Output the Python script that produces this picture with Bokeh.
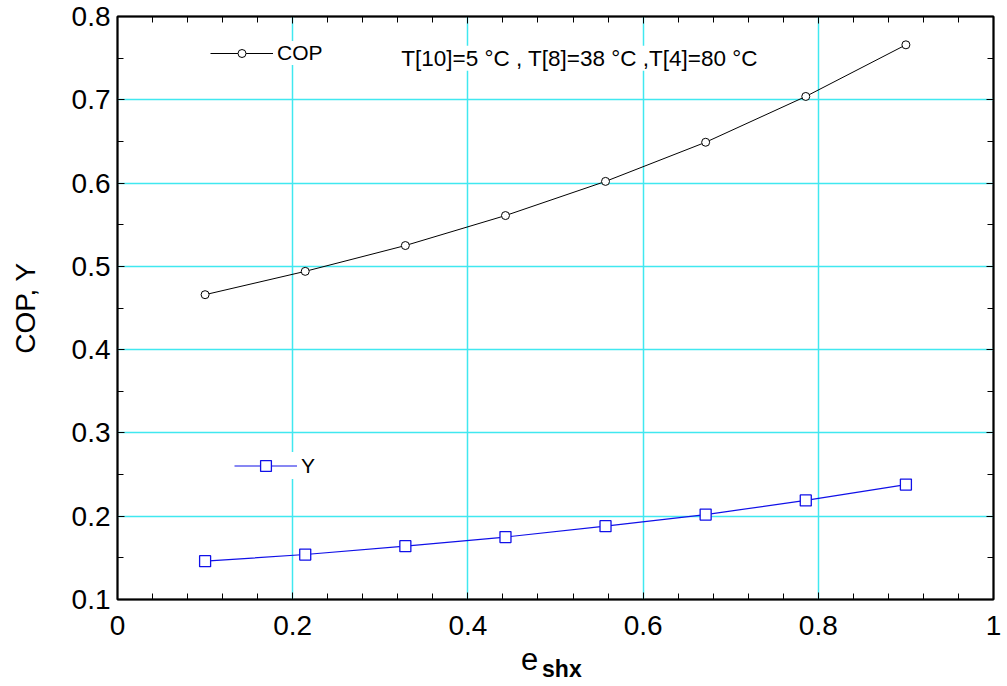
from bokeh.plotting import figure
from bokeh.models import (Range1d, SingleIntervalTicker, FixedTicker, LinearAxis, Legend,
                          LegendItem, Label, CustomJSTickFormatter, Grid)
from bokeh.embed import file_html
from bokeh.resources import INLINE

# ---- data ----
eps_shx = [0.1, 0.2143, 0.3286, 0.4429, 0.5571, 0.6714, 0.7857, 0.9]
cop = [0.466, 0.494, 0.525, 0.561, 0.602, 0.649, 0.704, 0.766]
y_vals = [0.146, 0.154, 0.164, 0.175, 0.188, 0.202, 0.219, 0.238]
note = "T[10]=5 \u00b0C , T[8]=38 \u00b0C ,T[4]=80 \u00b0C"

FONT = "Liberation Sans"
GRID = "#40e8f0"
NBSP = "\u00a0"

p = figure(width=1007, height=686, output_backend="svg", toolbar_location=None,
           x_range=Range1d(0, 1), y_range=Range1d(0.1, 0.8),
           min_border_left=117, min_border_right=14, min_border_top=16, min_border_bottom=87,
           x_axis_type=None, y_axis_type=None)
p.background_fill_color = "white"
p.border_fill_color = "white"
p.outline_line_color = "black"
p.outline_line_width = 2

fmt = CustomJSTickFormatter(code="return tick.toFixed(1).replace(/\\.0$/, '');")

def make_axis(interval, nminor, show_labels):
    ax = LinearAxis(ticker=SingleIntervalTicker(interval=interval, num_minor_ticks=nminor),
                    formatter=fmt)
    ax.axis_line_color = "black"
    ax.axis_line_width = 1.5
    ax.major_tick_in = 7
    ax.major_tick_out = 0
    ax.minor_tick_in = 6
    ax.minor_tick_out = 0
    ax.major_tick_line_color = "black"
    ax.minor_tick_line_color = "black"
    if show_labels:
        ax.major_label_text_font = FONT
        ax.major_label_text_font_size = "28px"
        ax.major_label_text_color = "black"
    else:
        ax.major_label_text_font_size = "0px"
        ax.major_label_text_color = None
    return ax

# bottom axis with the main symbol "e" as its label
xb = make_axis(0.2, 5, True)
xb.major_label_standoff = 16
xb.axis_label = "e" + NBSP * 6
xb.axis_label_text_font = FONT
xb.axis_label_text_font_size = "31px"
xb.axis_label_text_font_style = "normal"
xb.axis_label_text_color = "black"
xb.axis_label_standoff = 4
p.add_layout(xb, "below")

# second (invisible) bottom axis carrying the bold subscript "shx"
xs = LinearAxis(ticker=FixedTicker(ticks=[]))
xs.axis_line_color = None
xs.major_tick_line_color = None
xs.minor_tick_line_color = None
xs.major_tick_in = 0
xs.major_tick_out = 0
xs.minor_tick_in = 0
xs.minor_tick_out = 0
xs.major_label_standoff = 0
xs.major_label_text_font_size = "0px"
xs.axis_label = NBSP * 2 + "shx"
xs.axis_label_text_font = FONT
xs.axis_label_text_font_size = "23px"
xs.axis_label_text_font_style = "bold"
xs.axis_label_text_color = "black"
xs.axis_label_standoff = -24
p.add_layout(xs, "below")

xt = make_axis(0.2, 5, False)
p.add_layout(xt, "above")

yl = make_axis(0.1, 2, True)
yl.major_label_standoff = 7
yl.axis_label = "COP, Y"
yl.axis_label_text_font = FONT
yl.axis_label_text_font_size = "28px"
yl.axis_label_text_font_style = "normal"
yl.axis_label_text_color = "black"
yl.axis_label_standoff = 28
p.add_layout(yl, "left")
yr = make_axis(0.1, 2, False)
p.add_layout(yr, "right")

p.add_layout(Grid(dimension=0, ticker=xb.ticker, grid_line_color=GRID, grid_line_width=1.5))
p.add_layout(Grid(dimension=1, ticker=yl.ticker, grid_line_color=GRID, grid_line_width=1.5))

# ---- series ----
cop_line = p.line(eps_shx, cop, line_color="black", line_width=1)
cop_pts = p.scatter(eps_shx, cop, marker="circle", size=8, fill_color="white",
                    line_color="black", line_width=1)
y_line = p.line(eps_shx, y_vals, line_color="#1010e8", line_width=1.2)
y_pts = p.scatter(eps_shx, y_vals, marker="square", size=11, fill_color="white",
                  line_color="#1010e8", line_width=1.3)

def make_legend(label, rends, loc, gh, pad):
    return Legend(items=[LegendItem(label=label, renderers=rends)], location=loc,
                  glyph_width=63, glyph_height=gh, label_standoff=4, padding=pad, margin=0,
                  spacing=0, border_line_color=None, background_fill_color="white",
                  background_fill_alpha=1.0, label_text_font=FONT,
                  label_text_font_size="21px", label_text_color="black")

p.add_layout(make_legend("COP", [cop_line, cop_pts], (93, 534), 20, 3), "center")
p.add_layout(make_legend("Y", [y_line, y_pts], (117, 120), 27, 0), "center")

p.add_layout(Label(x=0.324, y=0.75, text=note, text_font=FONT, text_font_size="22.5px",
                   text_color="black", text_baseline="middle", text_align="left",
                   background_fill_color="white", background_fill_alpha=1.0))

open("out.html", "w").write(file_html(p, INLINE))
